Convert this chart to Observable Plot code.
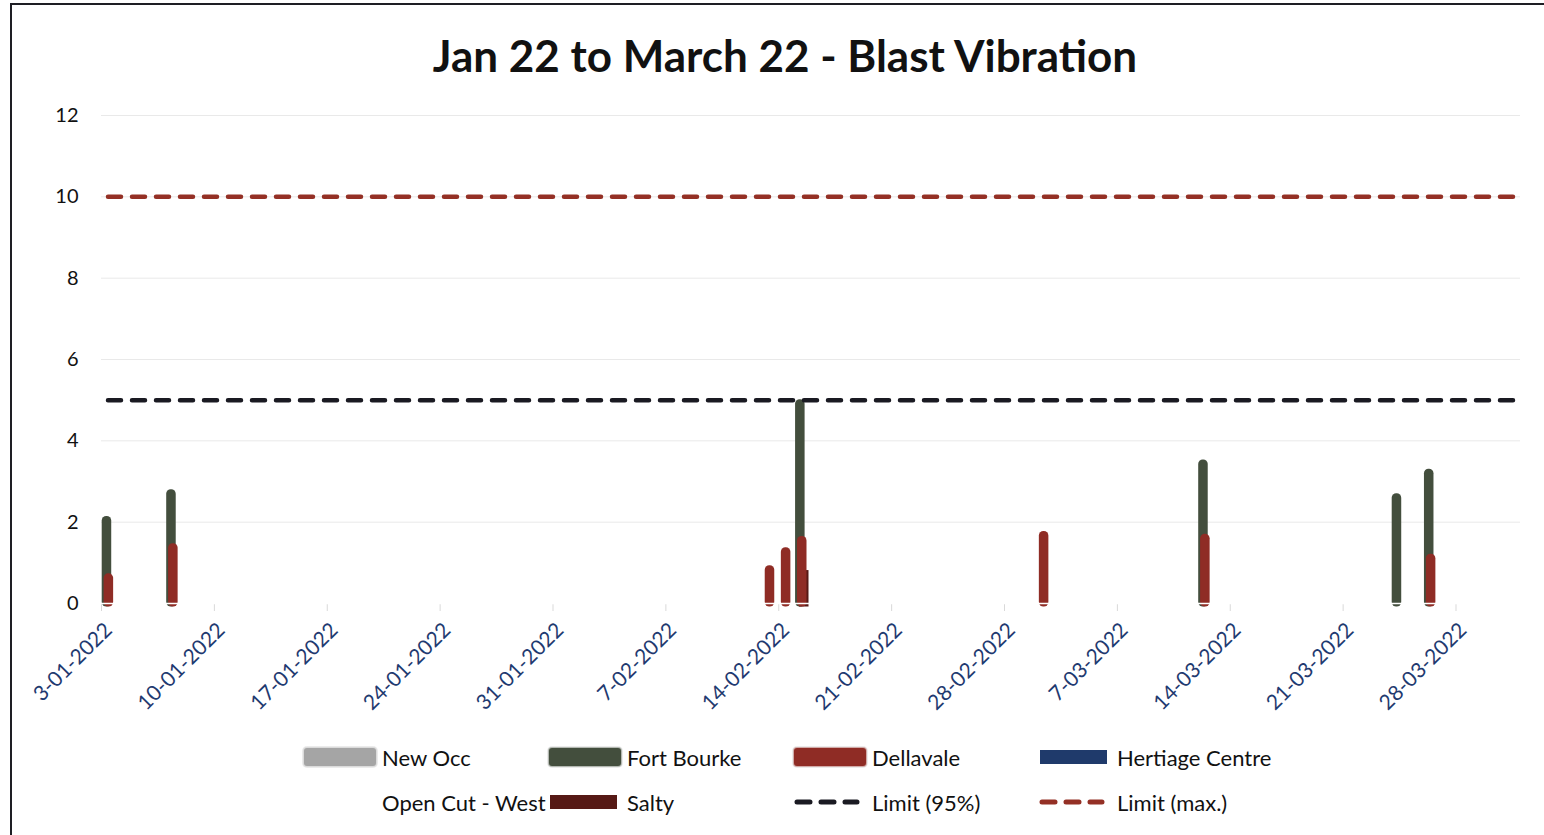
<!DOCTYPE html>
<html>
<head>
<meta charset="utf-8">
<script src="https://cdn.jsdelivr.net/npm/d3@7"></script>
<script src="https://cdn.jsdelivr.net/npm/@observablehq/plot@0.6"></script>
<style>
  html, body { margin: 0; padding: 0; background: #fff; }
  body { width: 1544px; height: 835px; overflow: hidden; position: relative; font-family: Lato, "Open Sans", sans-serif; }
  #frame { position: absolute; left: 10px; top: 3px; width: 1600px; height: 900px; border-left: 2px solid #1e1e24; border-top: 2px solid #1e1e24; box-sizing: border-box; }
  #title { position: absolute; left: 0; top: 30px; width: 1570px; text-align: center; font-weight: 700; font-size: 44px; color: #111; line-height: 50px; }
  #chart { position: absolute; left: 0; top: 100px; }
  #chart [aria-label="x-axis tick"] { stroke: #d9d9d9; }
  #chart [aria-label="x-axis tick label"] { fill: #1f3a70; }
  #legend { position: absolute; left: 303px; top: 745px; display: grid; grid-template-columns: repeat(4, 245px); row-gap: 21px; }
  .item { display: flex; align-items: center; height: 24px; font-size: 22px; color: #111; white-space: nowrap; }
  .sw { width: 74px; height: 24px; display: flex; align-items: center; margin-right: 5px; flex: none; }
  .sw .round { width: 74px; height: 20px; border-radius: 4px; box-sizing: border-box; border: 1px solid rgba(255,255,255,0.6); box-shadow: 0 0 0 1px rgba(0,0,0,0.08); }
  .sw .flat { width: 67px; height: 14px; margin-left: 2px; }
</style>
</head>
<body>
<div id="frame"></div>
<div id="title">Jan 22 to March 22 - Blast Vibration</div>
<div id="chart"></div>
<div id="legend"></div>
<script>
// ---- data ----
const blastDates = ["2022-01-03","2022-01-07","2022-02-13","2022-02-14","2022-02-15","2022-03-02","2022-03-12","2022-03-24","2022-03-26"];
const newOcc       = [0, 0, 0, 0, 0, 0, 0, 0, 0];
const fortBourke   = [2.14, 2.80, 0, 0, 5.01, 0, 3.53, 2.70, 3.30];
const dellavale    = [0.73, 1.47, 0.93, 1.37, 1.65, 1.77, 1.70, 0, 1.21];
const hertiage     = [0, 0, 0, 0, 0, 0, 0, 0, 0];
const openCutWest  = [0, 0, 0, 0, 0, 0, 0, 0, 0];
const salty        = [0, 0, 0, 0, 0.81, 0, 0, 0, 0];
const limit95 = 5;
const limitMax = 10;
const xTickDates = ["2022-01-03","2022-01-10","2022-01-17","2022-01-24","2022-01-31","2022-02-07","2022-02-14","2022-02-21","2022-02-28","2022-03-07","2022-03-14","2022-03-21","2022-03-28"];
const yTicks = [0, 2, 4, 6, 8, 10, 12];
const xDomain = ["2022-01-03", "2022-04-01"];

const colors = {
  "New Occ": "#a5a5a5",
  "Fort Bourke": "#434e3d",
  "Dellavale": "#8f2c25",
  "Hertiage Centre": "#1f3a6b",
  "Open Cut - West": "#ffffff",
  "Salty": "#561915",
  "Limit (95%)": "#1a1a22",
  "Limit (max.)": "#943025"
};

const seriesDefs = [
  {name: "New Occ", values: newOcc, dx: -4.2, rounded: true},
  {name: "Hertiage Centre", values: hertiage, dx: 1, rounded: false},
  {name: "Open Cut - West", values: openCutWest, dx: 1, rounded: false},
  {name: "Fort Bourke", values: fortBourke, dx: -2.6, rounded: true},
  {name: "Salty", values: salty, dx: 1.3, rounded: false},
  {name: "Dellavale", values: dellavale, dx: -0.7, rounded: true}
];

const parse = s => new Date(s + "T00:00:00Z");
const rows = seriesDefs.flatMap(s => s.values.map((v, i) => {
  const start = d3.utcDay.floor(parse(blastDates[i]));
  return {series: s.name, start, end: d3.utcDay.offset(start, 1), value: v};
}));

const fmt = d => `${d.getUTCDate()}-${String(d.getUTCMonth() + 1).padStart(2, "0")}-${d.getUTCFullYear()}`;

const barMarks = seriesDefs.map(s => Plot.rectY(rows.filter(r => r.series === s.name && r.value > 0), {
  x1: "start", x2: "end", y1: 0, y2: "value",
  fill: colors[s.name],
  insetLeft: 3.3, insetRight: 3.3, insetBottom: -3.5,
  rx: s.rounded ? 4.5 : 0,
  dx: s.dx
}));

const tickDates = xTickDates.map(parse);

const chart = Plot.plot({
  width: 1544,
  height: 620,
  marginLeft: 101,
  marginRight: 24,
  marginTop: 15,
  marginBottom: 117,
  style: {fontFamily: "Lato, 'Open Sans', sans-serif", background: "transparent"},
  x: {type: "utc", domain: xDomain.map(parse)},
  y: {domain: [0, 12]},
  marks: [
    Plot.gridY(yTicks, {stroke: "#e9e9e9", strokeOpacity: 1}),
    Plot.axisY(yTicks, {tickSize: 0, tickPadding: 23, fontSize: 20, fill: "#111", label: null}),
    Plot.axisX(tickDates, {tickFormat: () => "", tickSize: 8, label: null}),
    Plot.axisX(tickDates, {tickFormat: fmt, tickRotate: -45, tickSize: 0, tickPadding: 14, fontSize: 21, dx: 7, dy: 9, label: null}),
    ...barMarks,
    Plot.ruleY([0], {stroke: "#ffffff", strokeWidth: 1.5}),
    Plot.ruleY([limit95], {stroke: colors["Limit (95%)"], strokeWidth: 4.5, strokeDasharray: "13,11", strokeLinecap: "round", insetLeft: 7, insetRight: 6}),
    Plot.ruleY([limitMax], {stroke: colors["Limit (max.)"], strokeWidth: 4.5, strokeDasharray: "13,11", strokeLinecap: "round", insetLeft: 7, insetRight: 6})
  ]
});
document.getElementById("chart").appendChild(chart);

// ---- legend ----
const legendItems = [
  {name: "New Occ", kind: "round"},
  {name: "Fort Bourke", kind: "round"},
  {name: "Dellavale", kind: "round"},
  {name: "Hertiage Centre", kind: "flat"},
  {name: "Open Cut - West", kind: "none"},
  {name: "Salty", kind: "flat"},
  {name: "Limit (95%)", kind: "dash"},
  {name: "Limit (max.)", kind: "dash"}
];
const legend = document.getElementById("legend");
for (const it of legendItems) {
  const item = document.createElement("div");
  item.className = "item";
  const sw = document.createElement("div");
  sw.className = "sw";
  if (it.kind === "round" || it.kind === "flat") {
    const b = document.createElement("div");
    b.className = it.kind;
    b.style.background = colors[it.name];
    sw.appendChild(b);
  } else if (it.kind === "dash") {
    sw.innerHTML = `<svg width="74" height="24"><line x1="4" x2="64" y1="12" y2="12" stroke="${colors[it.name]}" stroke-width="5" stroke-linecap="round" stroke-dasharray="13,11"/></svg>`;
  }
  const lab = document.createElement("span");
  lab.textContent = it.name;
  item.appendChild(sw);
  item.appendChild(lab);
  legend.appendChild(item);
}
</script>
</body>
</html>
